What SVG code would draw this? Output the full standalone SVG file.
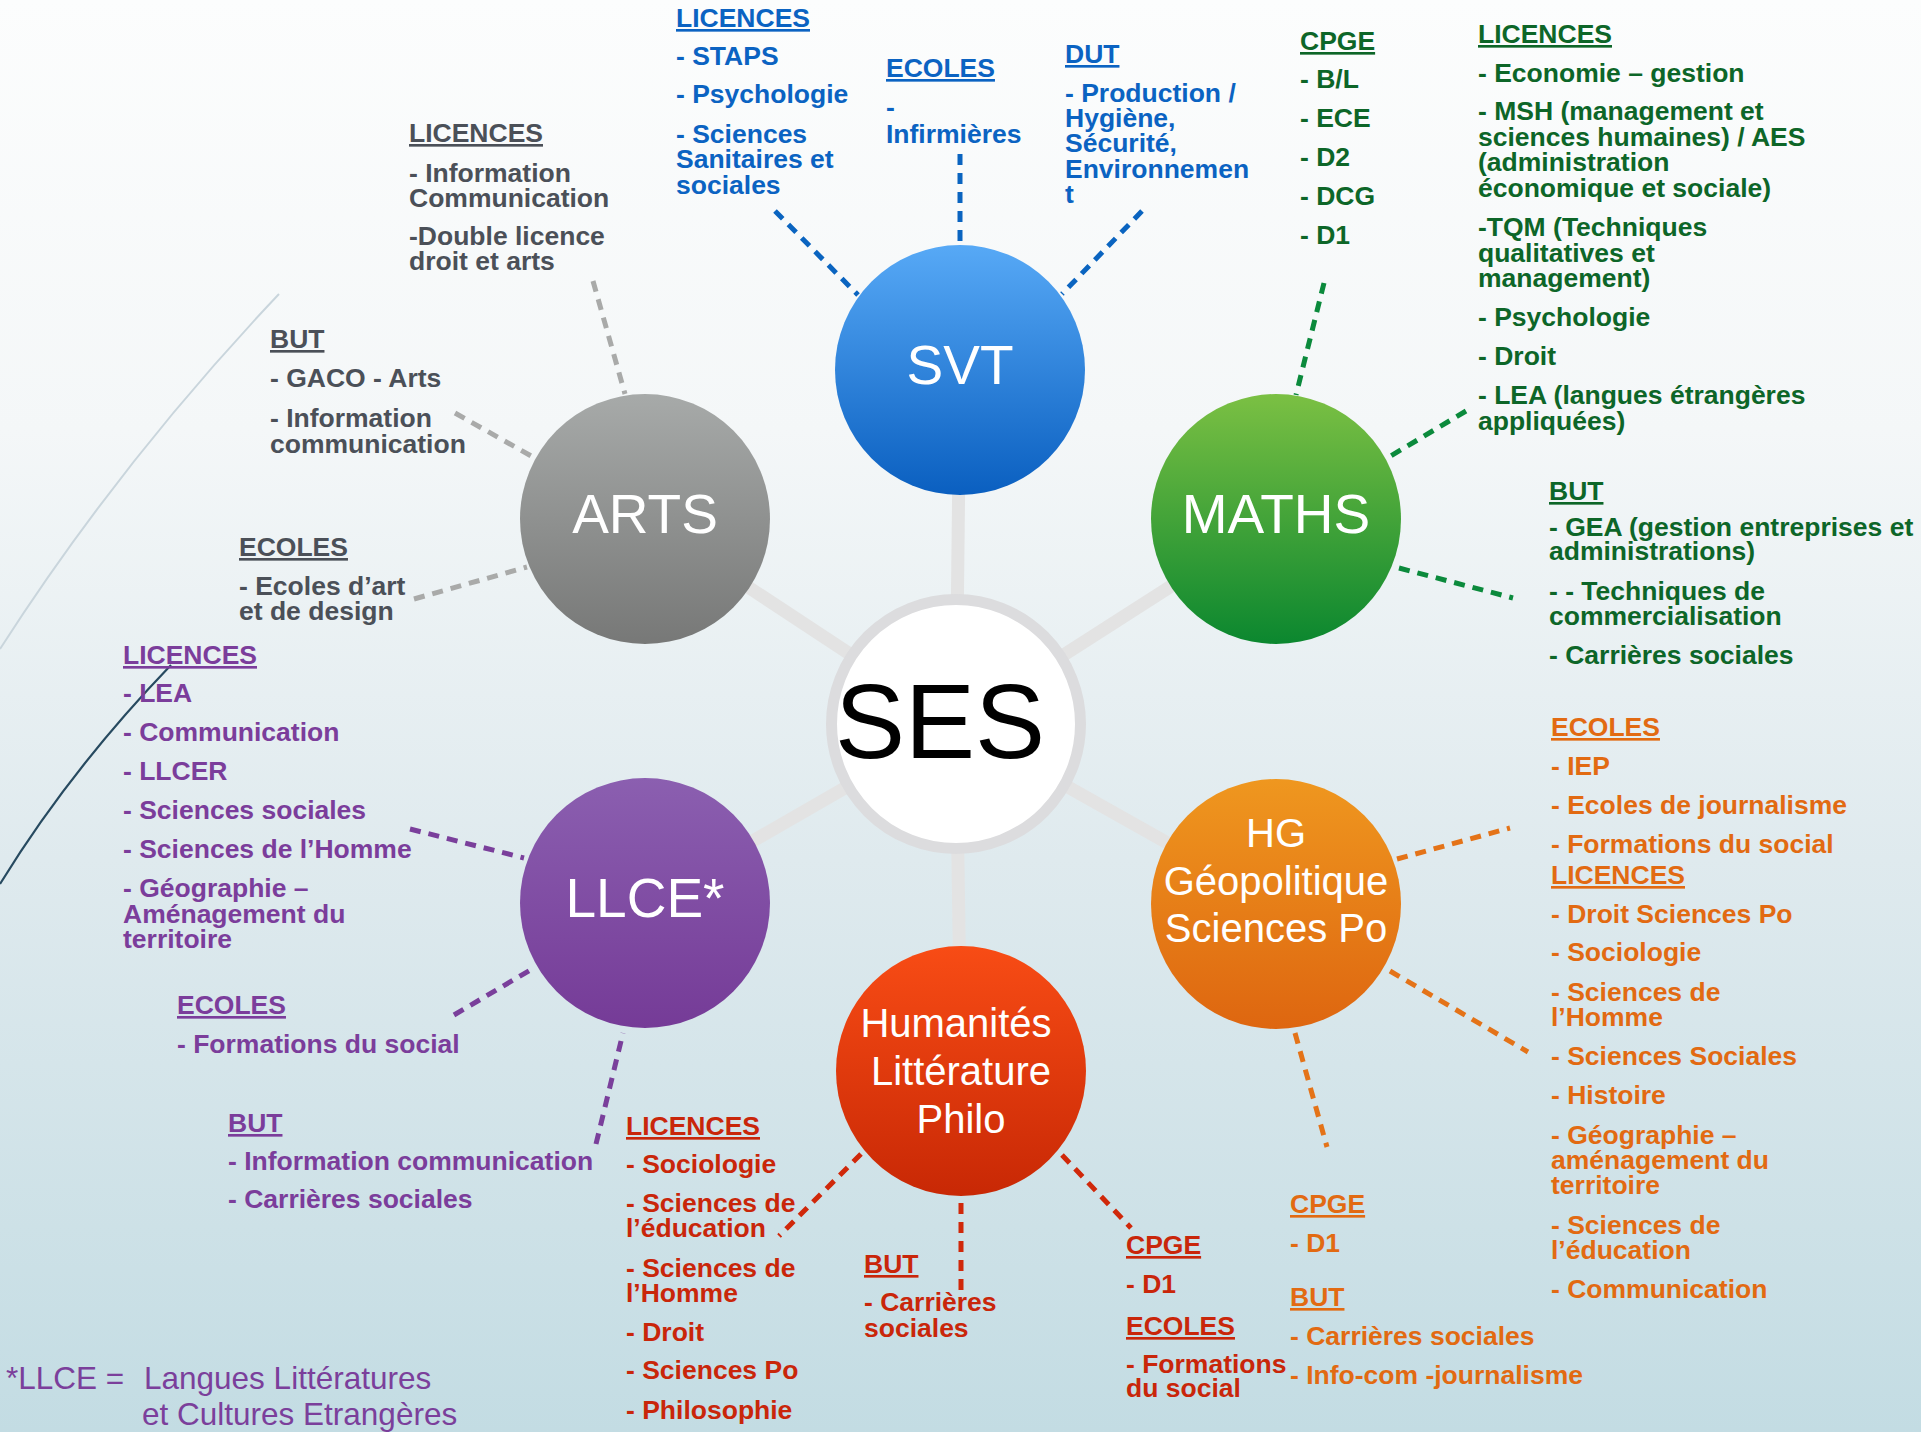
<svg xmlns="http://www.w3.org/2000/svg" width="1921" height="1432" viewBox="0 0 1921 1432">
<defs>
<linearGradient id="bg" x1="0" y1="0" x2="0" y2="1">
<stop offset="0" stop-color="#fcfdfd"/>
<stop offset="0.3" stop-color="#f4f7f8"/>
<stop offset="0.6" stop-color="#dfeaee"/>
<stop offset="1" stop-color="#c3dce3"/>
</linearGradient>
<linearGradient id="gSvt" x1="0" y1="0" x2="0" y2="1"><stop offset="0" stop-color="#57a9f6"/><stop offset="1" stop-color="#0a5fc0"/></linearGradient>
<linearGradient id="gArts" x1="0" y1="0" x2="0" y2="1"><stop offset="0" stop-color="#a7aaa9"/><stop offset="1" stop-color="#777877"/></linearGradient>
<linearGradient id="gMaths" x1="0" y1="0" x2="0" y2="1"><stop offset="0" stop-color="#7bc043"/><stop offset="1" stop-color="#0b872f"/></linearGradient>
<linearGradient id="gLlce" x1="0" y1="0" x2="0" y2="1"><stop offset="0" stop-color="#8b5fb0"/><stop offset="1" stop-color="#753b97"/></linearGradient>
<linearGradient id="gHg" x1="0" y1="0" x2="0" y2="1"><stop offset="0" stop-color="#ef971f"/><stop offset="1" stop-color="#de6610"/></linearGradient>
<linearGradient id="gHum" x1="0" y1="0" x2="0" y2="1"><stop offset="0" stop-color="#f84c15"/><stop offset="1" stop-color="#c82805"/></linearGradient>
</defs>
<style>
.t{font-family:"Liberation Sans",Arial,sans-serif;font-weight:bold;font-size:26.5px}
.u{text-decoration:underline}
.nl{font-family:"Liberation Sans",Arial,sans-serif;fill:#ffffff;text-anchor:middle}
.gray{fill:#4b5058}.blue{fill:#0b63c2}.green{fill:#0d6628}.orange{fill:#e26a12}.purple{fill:#7b3d9b}.red{fill:#c9260a}
.spoke{stroke:#e3e3e3;stroke-width:13;fill:none}
.d{stroke-width:5;stroke-dasharray:11 8;fill:none}
.dg{stroke:#a9aaa9}.db{stroke:#0a64c0}.dgr{stroke:#0b8a3c}.do{stroke:#e47318}.dp{stroke:#7a3f9b}.dr{stroke:#d0280a}
</style>
<rect x="0" y="0" width="1921" height="1432" fill="url(#bg)"/>
<g id="decor">
<path d="M279,294 Q120,462 0,649" fill="none" stroke="#c9d5dc" stroke-width="2"/>
<path d="M171,665 Q70,770 0,884" fill="none" stroke="#274a60" stroke-width="2.2"/>
</g>
<g id="connectors">
<line class="spoke" x1="956" y1="724" x2="960" y2="370"/>
<line class="spoke" x1="956" y1="724" x2="645" y2="519"/>
<line class="spoke" x1="956" y1="724" x2="1276" y2="519"/>
<line class="spoke" x1="956" y1="724" x2="645" y2="903"/>
<line class="spoke" x1="956" y1="724" x2="1276" y2="904"/>
<line class="spoke" x1="956" y1="724" x2="961" y2="1071"/>
<line class="d dg" x1="593" y1="281" x2="625" y2="394"/>
<line class="d dg" x1="455" y1="413" x2="533" y2="457"/>
<line class="d dg" x1="414" y1="599" x2="527" y2="567"/>
<line class="d db" x1="775" y1="211" x2="858" y2="295"/>
<line class="d db" x1="960" y1="154" x2="960" y2="245"/>
<line class="d db" x1="1142" y1="211" x2="1062" y2="294"/>
<line class="d dgr" x1="1324" y1="283" x2="1296" y2="395"/>
<line class="d dgr" x1="1466" y1="411" x2="1389" y2="457"/>
<line class="d dgr" x1="1399" y1="568" x2="1513" y2="598"/>
<line class="d do" x1="1397" y1="859" x2="1510" y2="828"/>
<line class="d do" x1="1390" y1="971" x2="1528" y2="1052"/>
<line class="d do" x1="1295" y1="1033" x2="1327" y2="1147"/>
<line class="d dp" x1="410" y1="829" x2="524" y2="858"/>
<line class="d dp" x1="454" y1="1015" x2="532" y2="969"/>
<line class="d dp" x1="596" y1="1144" x2="623" y2="1033"/>
<line class="d dr" x1="861" y1="1154" x2="779" y2="1236"/>
<line class="d dr" x1="961" y1="1203" x2="961" y2="1296"/>
<line class="d dr" x1="1062" y1="1155" x2="1131" y2="1228"/>
</g>
<g id="ses">
<circle cx="956" cy="724" r="124.5" fill="#ffffff" stroke="#dcdcde" stroke-width="11"/>
<text x="940" y="758" font-family="Liberation Sans,Arial,sans-serif" font-size="105" fill="#000000" text-anchor="middle">SES</text>
</g>
<g id="svt">
<circle cx="960" cy="370" r="125" fill="url(#gSvt)"/>
<text class="nl" x="960" y="384" font-size="55">SVT</text>
</g>
<g id="arts">
<circle cx="645" cy="519" r="125" fill="url(#gArts)"/>
<text class="nl" x="645" y="533" font-size="55">ARTS</text>
</g>
<g id="maths">
<circle cx="1276" cy="519" r="125" fill="url(#gMaths)"/>
<text class="nl" x="1276" y="533" font-size="55">MATHS</text>
</g>
<g id="llce">
<circle cx="645" cy="903" r="125" fill="url(#gLlce)"/>
<text class="nl" x="645" y="917" font-size="55">LLCE*</text>
</g>
<g id="hg">
<circle cx="1276" cy="904" r="125" fill="url(#gHg)"/>
<text class="nl" font-size="40"><tspan x="1276" y="847">HG</tspan><tspan x="1276" y="895">Géopolitique</tspan><tspan x="1276" y="942">Sciences Po</tspan></text>
</g>
<g id="humanites">
<circle cx="961" cy="1071" r="125" fill="url(#gHum)"/>
<text class="nl" font-size="40"><tspan x="956" y="1037">Humanités</tspan><tspan x="961" y="1085">Littérature</tspan><tspan x="961" y="1133">Philo</tspan></text>
</g>
<g id="arts-licences">
<text class="t gray"><tspan class="u" x="409" y="142">LICENCES</tspan><tspan x="409" y="182">- Information</tspan><tspan x="409" y="207">Communication</tspan><tspan x="409" y="245">-Double licence</tspan><tspan x="409" y="270">droit et arts</tspan></text>
</g>
<g id="arts-but">
<text class="t gray"><tspan class="u" x="270" y="348">BUT</tspan><tspan x="270" y="387">- GACO - Arts</tspan><tspan x="270" y="427">- Information</tspan><tspan x="270" y="453">communication</tspan></text>
</g>
<g id="arts-ecoles">
<text class="t gray"><tspan class="u" x="239" y="556">ECOLES</tspan><tspan x="239" y="595">- Ecoles d’art</tspan><tspan x="239" y="620">et de design</tspan></text>
</g>
<g id="svt-licences">
<text class="t blue"><tspan class="u" x="676" y="27">LICENCES</tspan><tspan x="676" y="65">- STAPS</tspan><tspan x="676" y="103">- Psychologie</tspan><tspan x="676" y="143">- Sciences</tspan><tspan x="676" y="168">Sanitaires et</tspan><tspan x="676" y="194">sociales</tspan></text>
</g>
<g id="svt-ecoles">
<text class="t blue"><tspan class="u" x="886" y="77">ECOLES</tspan><tspan x="886" y="116">-</tspan><tspan x="886" y="143">Infirmières</tspan></text>
</g>
<g id="svt-dut">
<text class="t blue"><tspan class="u" x="1065" y="63">DUT</tspan><tspan x="1065" y="102">- Production /</tspan><tspan x="1065" y="127">Hygiène,</tspan><tspan x="1065" y="152">Sécurité,</tspan><tspan x="1065" y="178">Environnemen</tspan><tspan x="1065" y="203">t</tspan></text>
</g>
<g id="maths-cpge">
<text class="t green"><tspan class="u" x="1300" y="50">CPGE</tspan><tspan x="1300" y="88">- B/L</tspan><tspan x="1300" y="127">- ECE</tspan><tspan x="1300" y="166">- D2</tspan><tspan x="1300" y="205">- DCG</tspan><tspan x="1300" y="244">- D1</tspan></text>
</g>
<g id="maths-licences">
<text class="t green"><tspan class="u" x="1478" y="43">LICENCES</tspan><tspan x="1478" y="82">- Economie – gestion</tspan><tspan x="1478" y="120">- MSH (management et</tspan><tspan x="1478" y="146">sciences humaines) / AES</tspan><tspan x="1478" y="171">(administration</tspan><tspan x="1478" y="197">économique et sociale)</tspan><tspan x="1478" y="236">-TQM (Techniques</tspan><tspan x="1478" y="262">qualitatives et</tspan><tspan x="1478" y="287">management)</tspan><tspan x="1478" y="326">- Psychologie</tspan><tspan x="1478" y="365">- Droit</tspan><tspan x="1478" y="404">- LEA (langues étrangères</tspan><tspan x="1478" y="430">appliquées)</tspan></text>
</g>
<g id="maths-but">
<text class="t green"><tspan class="u" x="1549" y="500">BUT</tspan><tspan x="1549" y="536">- GEA (gestion entreprises et</tspan><tspan x="1549" y="560">administrations)</tspan><tspan x="1549" y="600">- - Techniques de</tspan><tspan x="1549" y="625">commercialisation</tspan><tspan x="1549" y="664">- Carrières sociales</tspan></text>
</g>
<g id="hg-ecoles-licences">
<text class="t orange"><tspan class="u" x="1551" y="736">ECOLES</tspan><tspan x="1551" y="775">- IEP</tspan><tspan x="1551" y="814">- Ecoles de journalisme</tspan><tspan x="1551" y="853">- Formations du social</tspan><tspan class="u" x="1551" y="884">LICENCES</tspan><tspan x="1551" y="923">- Droit Sciences Po</tspan><tspan x="1551" y="961">- Sociologie</tspan><tspan x="1551" y="1001">- Sciences de</tspan><tspan x="1551" y="1026">l’Homme</tspan><tspan x="1551" y="1065">- Sciences Sociales</tspan><tspan x="1551" y="1104">- Histoire</tspan><tspan x="1551" y="1144">- Géographie –</tspan><tspan x="1551" y="1169">aménagement du</tspan><tspan x="1551" y="1194">territoire</tspan><tspan x="1551" y="1234">- Sciences de</tspan><tspan x="1551" y="1259">l’éducation</tspan><tspan x="1551" y="1298">- Communication</tspan></text>
</g>
<g id="hg-cpge-but">
<text class="t orange"><tspan class="u" x="1290" y="1213">CPGE</tspan><tspan x="1290" y="1252">- D1</tspan><tspan class="u" x="1290" y="1306">BUT</tspan><tspan x="1290" y="1345">- Carrières sociales</tspan><tspan x="1290" y="1384">- Info-com -journalisme</tspan></text>
</g>
<g id="llce-licences">
<text class="t purple"><tspan class="u" x="123" y="664">LICENCES</tspan><tspan x="123" y="702">- LEA</tspan><tspan x="123" y="741">- Communication</tspan><tspan x="123" y="780">- LLCER</tspan><tspan x="123" y="819">- Sciences sociales</tspan><tspan x="123" y="858">- Sciences de l’Homme</tspan><tspan x="123" y="897">- Géographie –</tspan><tspan x="123" y="923">Aménagement du</tspan><tspan x="123" y="948">territoire</tspan></text>
</g>
<g id="llce-ecoles">
<text class="t purple"><tspan class="u" x="177" y="1014">ECOLES</tspan><tspan x="177" y="1053">- Formations du social</tspan></text>
</g>
<g id="llce-but">
<text class="t purple"><tspan class="u" x="228" y="1132">BUT</tspan><tspan x="228" y="1170">- Information communication</tspan><tspan x="228" y="1208">- Carrières sociales</tspan></text>
</g>
<g id="footnote">
<text font-family="Liberation Sans,Arial,sans-serif" font-size="31.5" fill="#7b3f9b"><tspan x="6" y="1389">*LLCE =</tspan><tspan x="144" y="1389">Langues Littératures</tspan><tspan x="142" y="1425">et Cultures Etrangères</tspan></text>
</g>
<g id="hum-licences">
<text class="t red"><tspan class="u" x="626" y="1135">LICENCES</tspan><tspan x="626" y="1173">- Sociologie</tspan><tspan x="626" y="1212">- Sciences de</tspan><tspan x="626" y="1237">l’éducation</tspan><tspan x="626" y="1277">- Sciences de</tspan><tspan x="626" y="1302">l’Homme</tspan><tspan x="626" y="1341">- Droit</tspan><tspan x="626" y="1379">- Sciences Po</tspan><tspan x="626" y="1419">- Philosophie</tspan></text>
</g>
<g id="hum-but">
<text class="t red"><tspan class="u" x="864" y="1273">BUT</tspan><tspan x="864" y="1311">- Carrières</tspan><tspan x="864" y="1337">sociales</tspan></text>
</g>
<g id="hum-cpge-ecoles">
<text class="t red"><tspan class="u" x="1126" y="1254">CPGE</tspan><tspan x="1126" y="1293">- D1</tspan><tspan class="u" x="1126" y="1335">ECOLES</tspan><tspan x="1126" y="1373">- Formations</tspan><tspan x="1126" y="1397">du social</tspan></text>
</g>
</svg>
